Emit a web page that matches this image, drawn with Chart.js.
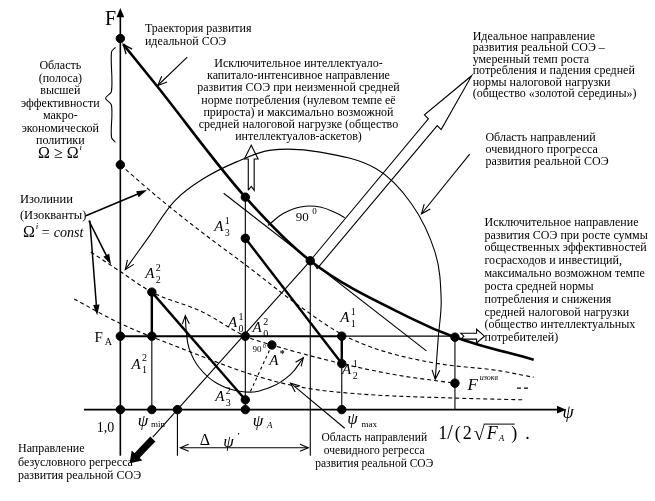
<!DOCTYPE html>
<html><head><meta charset="utf-8">
<script src="https://cdn.jsdelivr.net/npm/chart.js@4/dist/chart.umd.min.js"></script>
<style>html,body{margin:0;padding:0;background:#fff}canvas{display:block}</style>
</head><body>
<canvas id="c" width="655" height="501"></canvas>
<script>
// Diagram coordinates: x along ψ, y along F, origin at the axes crossing (1,0)
const psiAxis = [[-37,0],[448,0]];
const fAxis = [[0,-47],[0,405]];
const idealTrajectory = [[3,373],[36,332],[127,217],[193,152],[296,93],[340,74],[420,51]];
const isoquant1 = [[0,250],[38,217],[83,181],[127,148],[183,105],[225,77],[263,61],[323,47],[383,40],[420,33]];
const isoquant2 = [[-30,161],[0,141],[32,120],[83,100],[127,75],[154,66],[225,47],[283,35],[340,27]];
const isoquant2Tail = [[403,22],[415,22]];
const isoquant3 = [[-47,113],[0,88],[66,61],[133,36],[183,23],[243,16],[333,12],[410,10]];
const pathA1 = [[127,175],[225,47]];
const pathA2 = [[32,120],[127,10]];
const stepA2 = [[32,120],[32,75]];
const levelFA = [[0,75],[225,75]];
const stepA1 = [[225,75],[225,47]];
const levelFAext = [[225,75],[340,75]];
const dropPsiMin = [[32,75],[32,0]];
const dropPsiA = [[127,217],[127,0]];
const dropPsiMax = [[225,47],[225,0]];
const dropTangent = [[193,152],[193,-47]];
const dropFiso = [[340,74],[340,0]];
const dropDelta = [[58,0],[58,-47]];
const diagonal = [[33,-28],[193,152]];
const tangentLine = [[105,221],[311,60]];
const perpDashed = [[154,66],[131,16]];
const deltaPsi = [[61,-39],[191,-39]];
const regressArrow = [[33,-30],[14,-50]];
const bigArc = [[5,143],[30,178],[55,213],[83,235],[118,253],[153,265],[203,263],[260,246],[296,210],[320,160],[326,113],[323,73],[320,31]];
const smallArc = [[66,96],[67,80],[70,62],[80,43],[98,27],[127,18],[153,23],[173,36],[186,53]];
const rightAngleArc = [[150,188],[165,200],[183,207],[203,207],[221,200],[228,196]];
const hollowDiag = [[192,151],[313,297],[309,301],[357,341],[326,286],[322,290],[200,144],[196,150],[192,151]];
const hollowUp = [[130,224],[130,256],[126,256],[133,270],[140,256],[136,256],[136,224],[133,228],[130,224]];
const hollowRight = [[346,72],[362,72],[362,68],[370,75],[362,82],[362,78],[346,78],[349,75],[346,72]];
const brace = [[-5,370],[-9,365],[-9,325],[-15,318],[-9,311],[-9,278],[-5,273]];
const arrowTrajectory = [[68,360],[38,331]];
const arrowIso1 = [[-35,198],[22,222]];
const arrowIso2 = [[-32,193],[-12,153]];
const arrowIso3 = [[-31,193],[-24,102]];
const arrowProgress = [[355,261],[306,200]];
const arrowRegress = [[228,-19],[173,27]];
const dots = [[0,379],[0,250],[0,75],[0,0],[32,120],[32,75],[32,0],[58,0],[127,217],[127,175],[127,75],[154,66],[127,10],[127,0],[193,152],[225,75],[225,47],[225,0],[340,74],[340,27]];

const SERIF = '"Liberation Serif","Times New Roman",serif';
const textBlocks = [
  {x:25, y:389, lh:-13, align:'left', size:12, lines:['Траектория развития','идеальной СОЭ']},
  {x:-61, y:351, lh:-12.8, align:'center', size:12, lines:['Область','(полоса)','высшей','эффективности','макро-','экономической','политики']},
  {x:181, y:353, lh:-12.4, align:'center', size:12, lines:['Исключительное интеллектуало-','капитало-интенсивное направление','развития СОЭ при неизменной средней','норме потребления (нулевом темпе её','прироста) и максимально возможной','средней налоговой нагрузке (общество','интеллектуалов-аскетов)']},
  {x:358, y:381, lh:-11.7, align:'left', size:12, lines:['Идеальное направление','развития реальной СОЭ –','умеренный темп роста','потребления и падения средней','нормы налоговой нагрузки','(общество «золотой середины»)']},
  {x:371, y:278, lh:-12.5, align:'left', size:12, lines:['Область направлений','очевидного прогресса','развития реальной СОЭ']},
  {x:370, y:191, lh:-13.1, align:'left', size:12, lines:['Исключительное направление','развития СОЭ при росте суммы','общественных эффективностей','госрасходов и инвестиций,','максимально возможном темпе','роста средней нормы','потребления и снижения','средней налоговой нагрузки','(общество интеллектуальных','потребителей)']},
  {x:-102, y:214, lh:-16, align:'left', size:12.5, lines:['Изолинии','(Изокванты)']},
  {x:-104, y:-40, lh:-14, align:'left', size:12, lines:['Направление','безусловного регресса','развития реальной СОЭ']},
  {x:258, y:-29, lh:-13, align:'center', size:11.5, lines:['Область направлений','очевидного регресса','развития реальной СОЭ']}
];
const pointLabels = [
  {x:30, y:138, sup:'2', sub:'2'}, {x:16, y:46, sup:'2', sub:'1'},
  {x:100, y:186, sup:'1', sub:'3'}, {x:114, y:88, sup:'1', sub:'0'},
  {x:139, y:83, sup:'2', sub:'0'}, {x:101, y:13, sup:'2', sub:'3'},
  {x:228, y:93, sup:'1', sub:'1'}, {x:230, y:40, sup:'1', sub:'2'}
];

function L(pts, o){return Object.assign({data:pts.map(p=>({x:p[0],y:p[1]})),showLine:true,pointRadius:0,borderColor:'#000',backgroundColor:'#000',borderWidth:1.1,fill:false,tension:0,clip:false},o||{});}
const datasets = [
  L(fAxis,{borderWidth:1.6,arrow:'end',arrowFilled:true,arrowSize:10}),
  L(psiAxis,{borderWidth:1.6,arrow:'end',arrowFilled:true,arrowSize:10}),
  L(idealTrajectory,{borderWidth:2.6,cubicInterpolationMode:'monotone',arrow:'start',arrowSize:10}),
  L(isoquant1,{borderDash:[4,3],cubicInterpolationMode:'monotone',borderWidth:1.1}),
  L(isoquant2,{borderDash:[4,3],cubicInterpolationMode:'monotone',borderWidth:1.1}),
  L(isoquant2Tail,{borderDash:[4,3],borderWidth:1.1}),
  L(isoquant3,{borderDash:[4,3],cubicInterpolationMode:'monotone',borderWidth:1.1}),
  L(pathA1,{borderWidth:2.4}), L(pathA2,{borderWidth:2.4}), L(stepA2,{borderWidth:2.4}),
  L(levelFA,{borderWidth:2}), L(stepA1,{borderWidth:2.4}), L(levelFAext,{borderWidth:1.3}),
  L(dropPsiMin), L(dropPsiA), L(dropPsiMax), L(dropTangent), L(dropFiso), L(dropDelta),
  L(diagonal), L(tangentLine), L(perpDashed,{borderDash:[3,3]}),
  L(deltaPsi,{arrow:'both',arrowSize:9}),
  L(regressArrow,{borderWidth:7,arrow:'end',arrowFilled:true,arrowSize:13,arrowAngle:0.6}),
  L(bigArc,{tension:0.35,arrow:'both',arrowSize:10}),
  L(smallArc,{tension:0.4,arrow:'both',arrowSize:9}),
  L(rightAngleArc,{tension:0.4}),
  L(hollowDiag), L(hollowUp), L(hollowRight),
  L(brace,{tension:0.35}),
  L(arrowTrajectory,{arrow:'end',arrowSize:10}),
  L(arrowIso1,{borderWidth:1.5,arrow:'end',arrowSize:11,arrowFilled:true,arrowAngle:0.3}),
  L(arrowIso2,{borderWidth:1.5,arrow:'end',arrowSize:11,arrowFilled:true,arrowAngle:0.3}),
  L(arrowIso3,{borderWidth:1.5,arrow:'end',arrowSize:11,arrowFilled:true,arrowAngle:0.3}),
  L(arrowProgress,{arrow:'end',arrowSize:10}),
  L(arrowRegress,{arrow:'end',arrowSize:10}),
  {data:dots.map(p=>({x:p[0],y:p[1]})),showLine:false,pointRadius:4.2,pointBackgroundColor:'#000',pointBorderColor:'#000',clip:false}
];

const arrowPlugin = {
  id:'arrows',
  afterDatasetsDraw(chart){
    const ctx=chart.ctx;
    chart.data.datasets.forEach((ds,i)=>{
      if(!ds.arrow) return;
      const pts=chart.getDatasetMeta(i).data;
      const draw=(a,b)=>{
        const ang=Math.atan2(b.y-a.y,b.x-a.x), s=ds.arrowSize||9, w=ds.arrowAngle||0.4;
        ctx.save(); ctx.setLineDash([]); ctx.strokeStyle='#000'; ctx.fillStyle='#000';
        ctx.lineWidth=ds.arrowFilled?1:Math.min(ds.borderWidth,1.3);
        const tx=b.x+(ds.arrowFilled?Math.cos(ang)*s*0.5:0), ty=b.y+(ds.arrowFilled?Math.sin(ang)*s*0.5:0);
        ctx.beginPath();
        ctx.moveTo(tx-s*Math.cos(ang-w),ty-s*Math.sin(ang-w));
        ctx.lineTo(tx,ty);
        ctx.lineTo(tx-s*Math.cos(ang+w),ty-s*Math.sin(ang+w));
        if(ds.arrowFilled){ctx.closePath();ctx.fill();}else ctx.stroke();
        ctx.restore();
      };
      if(ds.arrow==='end'||ds.arrow==='both') draw(pts[pts.length-2],pts[pts.length-1]);
      if(ds.arrow==='start'||ds.arrow==='both') draw(pts[1],pts[0]);
    });
  }
};

const textPlugin = {
  id:'texts',
  afterDraw(chart){
    const ctx=chart.ctx, sx=chart.scales.x, sy=chart.scales.y;
    const P=(x,y)=>[sx.getPixelForValue(x),sy.getPixelForValue(y)];
    const T=(s,x,y,font,align)=>{ctx.font=font;ctx.textAlign=align||'left';ctx.textBaseline='middle';ctx.fillText(s,x,y);return ctx.measureText(s).width;};
    ctx.save(); ctx.fillStyle='#000'; ctx.strokeStyle='#000';
    textBlocks.forEach(b=>{const f=b.size+'px '+SERIF; b.lines.forEach((s,k)=>{const [px,py]=P(b.x,b.y+k*b.lh);T(s,px,py,f,b.align);});});
    pointLabels.forEach(l=>{const [px,py]=P(l.x,l.y);
      T('A',px,py,'italic 15px '+SERIF,'center');
      T(l.sup,px+6,py-6,'10px '+SERIF,'left');
      T(l.sub,px+6,py+6,'10px '+SERIF,'left');});
    let p;
    p=P(156,50); T('A',p[0],p[1],'italic 15px '+SERIF,'center'); T('*',p[0]+6,p[1]-6,'bold 10px '+SERIF,'left');
    p=P(-10,398); T('F',p[0],p[1],'20px '+SERIF,'center');
    p=P(455,-4); T('ψ',p[0],p[1],'italic 18px '+SERIF,'center');
    p=P(-22,73); T('F',p[0],p[1],'15px '+SERIF,'center'); T('A',p[0]+6,p[1]+4,'10px '+SERIF,'left');
    p=P(-15,-19); T('1,0',p[0],p[1],'14px '+SERIF,'center');
    p=P(23,-12); T('ψ',p[0],p[1],'italic 17px '+SERIF,'center'); T('min',p[0]+8,p[1]+3,'9px '+SERIF,'left');
    p=P(140,-12); T('ψ',p[0],p[1],'italic 17px '+SERIF,'center'); T('A',p[0]+9,p[1]+4,'italic 9px '+SERIF,'left');
    p=P(236,-10); T('ψ',p[0],p[1],'italic 17px '+SERIF,'center'); T('max',p[0]+9,p[1]+5,'9px '+SERIF,'left');
    p=P(86,-32); T('Δ',p[0],p[1],'16px '+SERIF,'center');
    p=P(110,-34); T('ψ',p[0],p[1],'italic 17px '+SERIF,'center');
    p=P(120,-25); T('•',p[0],p[1],'6px '+SERIF,'center');
    p=P(188,198); T('90',p[0]-3,p[1]+2,'13px '+SERIF,'center'); T('0',p[0]+7,p[1]-4,'9px '+SERIF,'left');
    p=P(141,61); T('90',p[0]-2,p[1],'9px '+SERIF,'center'); T('0',p[0]+4,p[1]-3,'6px '+SERIF,'left');
    p=P(358,25); T('F',p[0],p[1],'italic 17px '+SERIF,'center'); T('изокв',p[0]+7,p[1]-7,'italic 8px '+SERIF,'left');
    p=P(-60,261); let w=T('Ω ≥ Ω',p[0]-3,p[1],'16px '+SERIF,'center'); T('i',p[0]-3+w/2+1,p[1]-6,'italic 9px '+SERIF,'left');
    p=P(-99,181); w=T('Ω',p[0],p[1],'16px '+SERIF,'left'); T('i',p[0]+w+1,p[1]-6,'italic 9px '+SERIF,'left'); T('= const',p[0]+w+6,p[1]+1,'italic 14px '+SERIF,'left');
    p=P(323,-25); let x=p[0], y=p[1];
    x+=T('1',x,y,'18px '+SERIF,'left');
    x+=T('/',x,y,'20px '+SERIF,'left')+2;
    x+=T('(',x,y,'18px '+SERIF,'left')+2;
    x+=T('2',x,y,'18px '+SERIF,'left')+2;
    x+=T('√',x,y+1,'20px '+SERIF,'left');
    ctx.beginPath(); ctx.lineWidth=1; ctx.moveTo(x-1,y-10); ctx.lineTo(x+30,y-10); ctx.stroke();
    x+=2; x+=T('F',x,y,'italic 18px '+SERIF,'left'); x+=T('A',x+1,y+5,'italic 9px '+SERIF,'left')+8;
    x+=T(')',x,y,'18px '+SERIF,'left')+8;
    T('.',x,y,'18px '+SERIF,'left');
    ctx.restore();
  }
};

new Chart(document.getElementById('c'),{
  type:'scatter',
  data:{datasets},
  options:{
    responsive:false, animation:false, devicePixelRatio:1,
    layout:{padding:0},
    plugins:{legend:{display:false},tooltip:{enabled:false}},
    scales:{
      x:{type:'linear',min:-117,max:538,display:false},
      y:{type:'linear',min:-88,max:413,display:false}
    }
  },
  plugins:[arrowPlugin,textPlugin]
});
</script>
</body></html>
